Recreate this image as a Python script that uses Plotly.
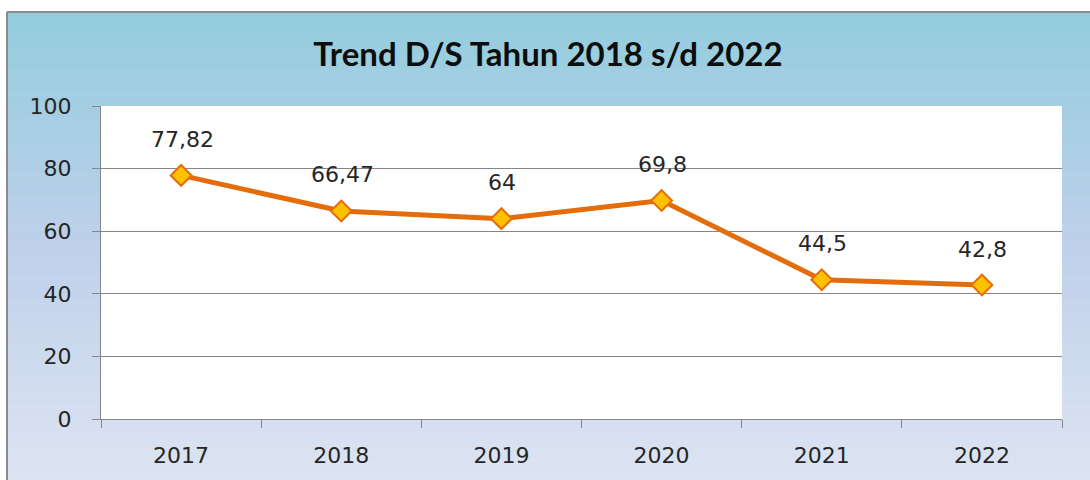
import plotly.graph_objects as go

years = ["2017", "2018", "2019", "2020", "2021", "2022"]
values = [77.82, 66.47, 64, 69.8, 44.5, 42.8]
labels = [f"{v:g}".replace(".", ",") for v in values]
y_ticks = [0, 20, 40, 60, 80, 100]

W, H = 1090, 480
L, R, T, B = 101, 28, 106, 61
pw, ph = W - L - R, H - T - B


def px_x(px):
    return (px - L) / pw


def px_y(py):
    return (H - B - py) / ph


stops = [(0.0, (147, 205, 221)), (0.5, (190, 208, 234)), (1.0, (221, 228, 242))]


def color_at(t):
    for (t0, c0), (t1, c1) in zip(stops[:-1], stops[1:]):
        if t <= t1:
            f = (t - t0) / (t1 - t0)
            return "rgb(%d,%d,%d)" % tuple(round(a + (b - a) * f) for a, b in zip(c0, c1))
    return "rgb(%d,%d,%d)" % stops[-1][1]


shapes = []
top_px, bot_px = 12, H
n = 90
for i in range(n):
    y0 = top_px + (bot_px - top_px) * i / n
    y1 = top_px + (bot_px - top_px) * (i + 1) / n + 0.6
    shapes.append(dict(type="rect", xref="paper", yref="paper", layer="below",
                       x0=px_x(7), x1=px_x(W + 5), y0=px_y(y1), y1=px_y(y0),
                       line=dict(width=0), fillcolor=color_at((i + 0.5) / n)))
# white plot area
shapes.append(dict(type="rect", xref="x domain", yref="y domain", layer="below",
                   x0=0, x1=1, y0=0, y1=1, line=dict(width=0), fillcolor="white"))
# chart border (top + left)
shapes.append(dict(type="line", xref="paper", yref="paper", layer="above",
                   x0=px_x(7), x1=px_x(W + 5), y0=px_y(12), y1=px_y(12),
                   line=dict(color="#8C8C8C", width=2)))
shapes.append(dict(type="line", xref="paper", yref="paper", layer="above",
                   x0=px_x(7), x1=px_x(7), y0=px_y(12), y1=px_y(H + 5),
                   line=dict(color="#8C8C8C", width=2)))

fig = go.Figure()
fig.add_trace(go.Scatter(
    x=years, y=values, mode="lines+markers",
    line=dict(color="#E46C0A", width=5),
    marker=dict(symbol="diamond", size=16, color="#FFC000",
                line=dict(color="#E46C0A", width=2)),
    hoverinfo="skip", showlegend=False, cliponaxis=False,
))

annotations = [dict(x=i, y=v, xref="x", yref="y", text=t, showarrow=False,
                    yshift=36, xshift=1,
                    font=dict(family="DejaVu Sans", size=22, color="#262626"))
               for i, (v, t) in enumerate(zip(values, labels))]

fig.update_layout(
    width=W, height=H,
    margin=dict(l=L, r=R, t=T, b=B),
    paper_bgcolor="white", plot_bgcolor="rgba(0,0,0,0)",
    shapes=shapes, annotations=annotations,
    title=dict(text="<b>Trend D/S Tahun 2018 s/d 2022</b>", xref="container",
               x=548 / W, xanchor="center", yref="container", y=1 - 54 / H,
               yanchor="middle",
               font=dict(family="Lato", size=33, color="#0D0D0D")),
    font=dict(family="DejaVu Sans", size=22, color="#262626"),
)
fig.update_xaxes(type="category", showgrid=False, showline=True,
                 linecolor="#868686", linewidth=1, ticks="outside",
                 tickson="boundaries", ticklen=8, tickcolor="#868686",
                 ticklabelstandoff=17, range=[-0.5, 5.5])
fig.update_yaxes(range=[0, 100], tickvals=y_ticks, showgrid=True,
                 gridcolor="#868686", gridwidth=1, showline=True,
                 linecolor="#868686", linewidth=1, ticks="outside",
                 ticklen=8, tickcolor="#868686", ticklabelstandoff=16,
                 zeroline=False)

fig.write_html("out.html", config={"displayModeBar": False},
               post_script="document.body.style.margin='0';document.body.style.padding='0';")
